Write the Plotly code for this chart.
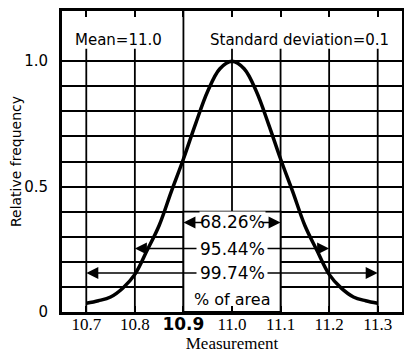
import plotly.graph_objects as go

# Curve
measurement = [10.700, 10.725, 10.750, 10.775, 10.800, 10.825, 10.850, 10.875,
               10.900, 10.925, 10.950, 10.975, 11.000, 11.025, 11.050, 11.075,
               11.100, 11.125, 11.150, 11.175, 11.200, 11.225, 11.250, 11.275, 11.300]
rel_freq = [0.035, 0.045, 0.06, 0.095, 0.15, 0.245, 0.345, 0.48,
            0.61, 0.75, 0.88, 0.97, 1.00, 0.97, 0.88, 0.75,
            0.61, 0.48, 0.345, 0.245, 0.15, 0.095, 0.06, 0.045, 0.035]

x_ticks = [10.7, 10.8, 10.9, 11.0, 11.1, 11.2, 11.3]
x_ticktext = ["10.7", "10.8",
              "<span style=\"font-family:'DejaVu Sans';font-weight:bold\">10.9</span>",
              "11.0", "11.1", "11.2", "11.3"]
y_grid = [0, 0.1, 0.2, 0.3, 0.4, 0.5, 0.6, 0.7, 0.8, 0.9, 1.0]
y_ticktext = ["0", "", "", "", "", "0.5", "", "", "", "", "1.0"]

mean = 11.0
sd = 0.1
area_labels = ["68.26%", "95.44%", "99.74%"]
area_levels = [0.357, 0.253, 0.155]
area_k = [1, 2, 3]

fig = go.Figure()
fig.add_trace(go.Scatter(x=measurement, y=rel_freq, mode="lines",
                         line=dict(color="black", width=3.5, shape="spline"),
                         hoverinfo="skip", showlegend=False))

shapes = []
for xv in x_ticks:
    top = 1.2 if abs(xv - 10.9) < 1e-9 else 1.05
    shapes.append(dict(type="line", xref="x", yref="y", x0=xv, x1=xv, y0=0, y1=top,
                       line=dict(color="black", width=1.8), layer="between"))
# white box holding the area labels
shapes.append(dict(type="rect", xref="x", yref="y", x0=mean - sd, x1=mean + sd, y0=0, y1=0.4,
                   fillcolor="white", line=dict(color="black", width=1.8), layer="between"))

annotations = []
pct_font = dict(family="DejaVu Sans", size=17, color="black")
half_w = [0.058, 0.07, 0.07]
for lab, lev, k, hw in zip(area_labels, area_levels, area_k, half_w):
    annotations.append(dict(x=mean, y=lev, xref="x", yref="y", text=lab, showarrow=False,
                            font=pct_font, bgcolor="white", borderpad=0))
    for s in (-1, 1):
        annotations.append(dict(x=mean + s * k * sd, y=lev, ax=mean + s * hw, ay=lev,
                                xref="x", yref="y", axref="x", ayref="y", text="",
                                showarrow=True, arrowhead=2, arrowsize=1.6, arrowwidth=1.5,
                                arrowcolor="black", standoff=0, startstandoff=0))
annotations.append(dict(x=mean, y=0.048, xref="x", yref="y", text="% of area", showarrow=False,
                        font=dict(family="DejaVu Sans", size=16, color="black")))
annotations.append(dict(x=10.767, y=1.084, xref="x", yref="y", text="Mean=11.0", showarrow=False,
                        font=dict(family="DejaVu Sans", size=15, color="black")))
annotations.append(dict(x=11.139, y=1.084, xref="x", yref="y", text="Standard deviation=0.1",
                        showarrow=False, font=dict(family="DejaVu Sans", size=15, color="black")))

fig.update_layout(
    width=404, height=354,
    margin=dict(l=62, r=2, t=11, b=42),
    paper_bgcolor="white", plot_bgcolor="white",
    shapes=shapes, annotations=annotations,
    showlegend=False,
)
fig.update_xaxes(range=[10.65, 11.35], tickvals=x_ticks, ticktext=x_ticktext,
                 showgrid=False, zeroline=False, automargin=False,
                 showline=True, linecolor="black", linewidth=3, mirror="ticks",
                 ticks="inside", ticklen=6, tickwidth=1.8, tickcolor="black",
                 tickfont=dict(family="Liberation Serif", size=17, color="black"),
                 ticklabelstandoff=-5,
                 title=dict(text="Measurement", standoff=0,
                            font=dict(family="Liberation Serif", size=17, color="black")))
fig.update_yaxes(range=[0, 1.2], tickvals=y_grid, ticktext=y_ticktext,
                 showgrid=True, gridcolor="black", gridwidth=1.8, zeroline=False,
                 showline=True, linecolor="black", linewidth=3, mirror=True,
                 ticks="", ticklabelstandoff=8, automargin=False,
                 tickfont=dict(family="DejaVu Sans", size=15, color="black"),
                 title=dict(text="Relative frequency", standoff=0,
                            font=dict(family="DejaVu Sans", size=14, color="black")))

fig.write_html("out.html", config={"displayModeBar": False},
               post_script="document.body.style.margin='0';")
